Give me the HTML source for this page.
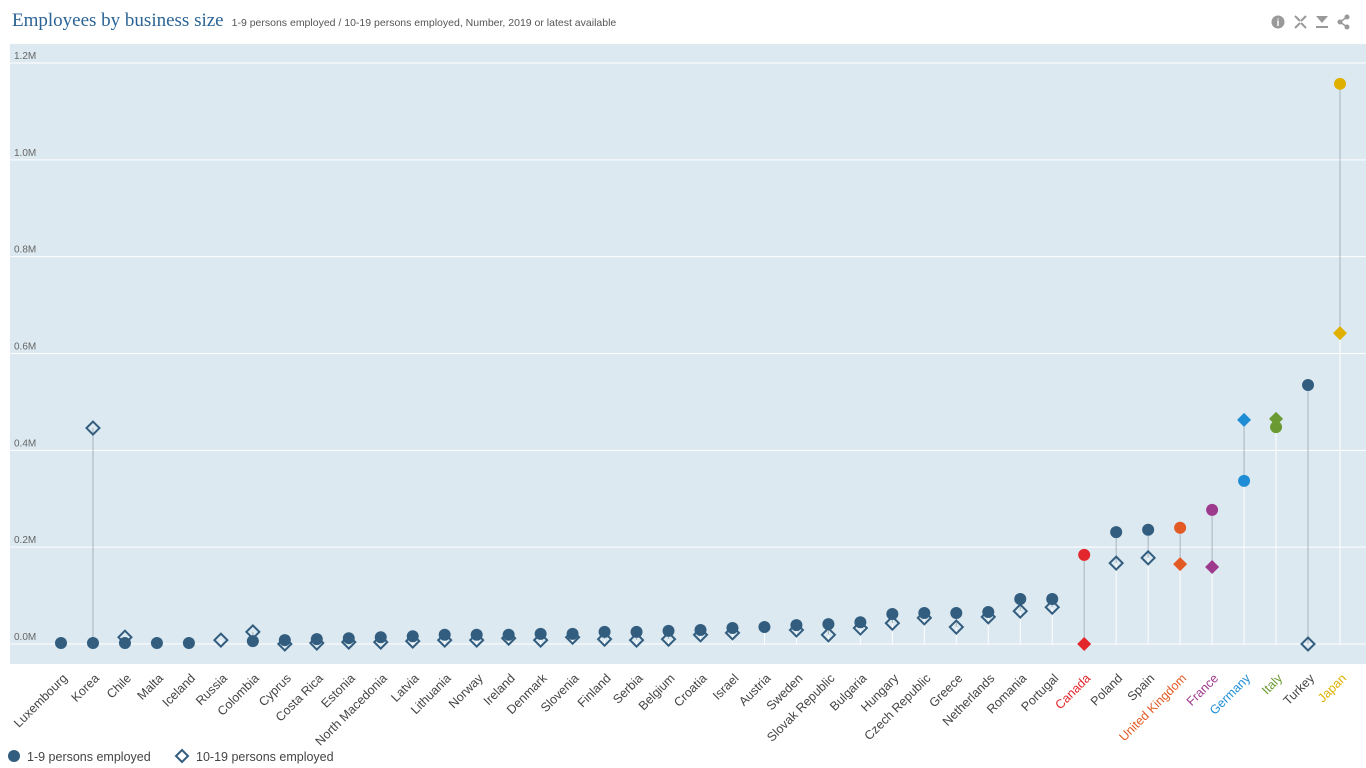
<!DOCTYPE html>
<html><head><meta charset="utf-8">
<style>
body{margin:0;width:1366px;height:768px;background:#fff;overflow:hidden;font-family:"Liberation Sans",sans-serif;}
#title{position:absolute;left:12px;top:10px;font-family:"Liberation Serif",serif;font-size:19px;color:#2a6496;white-space:nowrap}
#sub{font-family:"Liberation Sans",sans-serif;font-size:10.5px;color:#555;margin-left:8px}
svg{position:absolute;left:0;top:0}
</style></head><body>
<div id="title">Employees by business size<span id="sub">1-9 persons employed / 10-19 persons employed, Number, 2019 or latest available</span></div>
<svg id="chart" width="1366" height="768">
<g fill="#999">
<circle cx="1278" cy="22" r="6.5"/>
<text x="1278" y="26" font-size="10" font-weight="bold" fill="#fff" text-anchor="middle">i</text>
<g stroke="#999" stroke-width="2"><path d="M1295 16l5 5M1306 16l-5 5M1295 28l5-5M1306 28l-5-5" /></g>
<path d="M1316 16h12l-6 7z M1316 26h12v2h-12z"/>
<g><circle cx="1347" cy="17" r="2.5"/><circle cx="1347" cy="27" r="2.5"/><circle cx="1340" cy="22" r="2.5"/><path d="M1347 17L1340 22L1347 27" stroke="#999" stroke-width="1.5" fill="none"/></g>
</g>
</svg>
<script>
const categories=["Luxembourg","Korea","Chile","Malta","Iceland","Russia","Colombia","Cyprus","Costa Rica","Estonia","North Macedonia","Latvia","Lithuania","Norway","Ireland","Denmark","Slovenia","Finland","Serbia","Belgium","Croatia","Israel","Austria","Sweden","Slovak Republic","Bulgaria","Hungary","Czech Republic","Greece","Netherlands","Romania","Portugal","Canada","Poland","Spain","United Kingdom","France","Germany","Italy","Turkey","Japan"];
const small=[2,2,2,2,2,null,6,8,10,12,14,16,19,19,19,21,21,25,25,27,29,33,35,39,41,45,62,64,64,66,93,93,184,231,236,240,277,337,448,535,1157];
const medium=[null,446,14,null,null,8,25,0,2,4,4,6,8,8,12,8,14,10,8,10,19,23,null,29,19,33,43,54,35,56,68,76,0,167,178,165,159,463,465,0,642];
const highlight={"Canada":"#e3262b","United Kingdom":"#e35a24","France":"#9e3a8d","Germany":"#1f8dd6","Italy":"#6b9a33","Japan":"#dfb000"};
const ticks=[0,200,400,600,800,1000,1200];
const tickLabels=["0.0M","0.2M","0.4M","0.6M","0.8M","1.0M","1.2M"];
const NS="http://www.w3.org/2000/svg";
const svg=document.getElementById('chart');
const y=v=>644-v/1200*581;
const x=i=>61+i*(1340-61)/(categories.length-1);
function mk(t,a,p){const e=document.createElementNS(NS,t);for(const k in a)e.setAttribute(k,a[k]);(p||svg).appendChild(e);return e;}
const bg=mk('rect',{x:10,y:44,width:1356,height:620,fill:'#dce9f1'});


ticks.forEach((t,i)=>{
 const l=mk('line',{x1:10,x2:1366,y1:y(t),y2:y(t),stroke:'#fff','stroke-width':1});
 
 
 const tx=mk('text',{x:14,y:y(t)-4,'font-size':10,fill:'#666'});
 tx.textContent=tickLabels[i];
 
 
});
const base='#335d7e';
categories.forEach((c,i)=>{
 const cx=x(i),col=highlight[c]||base;
 const vals=[small[i],medium[i]].filter(v=>v!==null);
 const mn=Math.min(...vals),mx=Math.max(...vals);
 const w=mk('line',{x1:cx,x2:cx,y1:y(0),y2:y(mn),stroke:'#fff','stroke-width':1});
 
 
 const g=mk('line',{x1:cx,x2:cx,y1:y(mn),y2:y(mx),stroke:'#a9b4bd','stroke-width':1});
 
 
 if(medium[i]!==null){
  const my=y(medium[i]);const hl=!!highlight[c];const s=hl?7:6.5;
  const d=mk('path',{d:`M${cx} ${my-s}L${cx+s} ${my}L${cx} ${my+s}L${cx-s} ${my}Z`,fill:hl?col:'none',stroke:col,'stroke-width':hl?0:2});
  
  
 }
 if(small[i]!==null){
  const p=mk('circle',{cx:cx,cy:y(small[i]),r:6,fill:col});
  
  
 }
 const t=mk('text',{x:0,y:0,'font-size':12.5,fill:highlight[c]||'#444','text-anchor':'end',transform:`translate(${cx+7},${679}) rotate(-45)`});
 t.textContent=c;
 
 
});
const lg=mk('g',{});


const l1=mk('g',{},lg);


mk('circle',{cx:14,cy:756,r:6,fill:base},l1);
const t1=mk('text',{x:27,y:761,'font-size':12.5,fill:'#444'},l1);t1.textContent='1-9 persons employed';
const l2=mk('g',{},lg);


mk('path',{d:'M182 750L188 756L182 762L176 756Z',fill:'none',stroke:base,'stroke-width':2},l2);
const t2=mk('text',{x:196,y:761,'font-size':12.5,fill:'#444'},l2);t2.textContent='10-19 persons employed';
</script>
</body></html>
